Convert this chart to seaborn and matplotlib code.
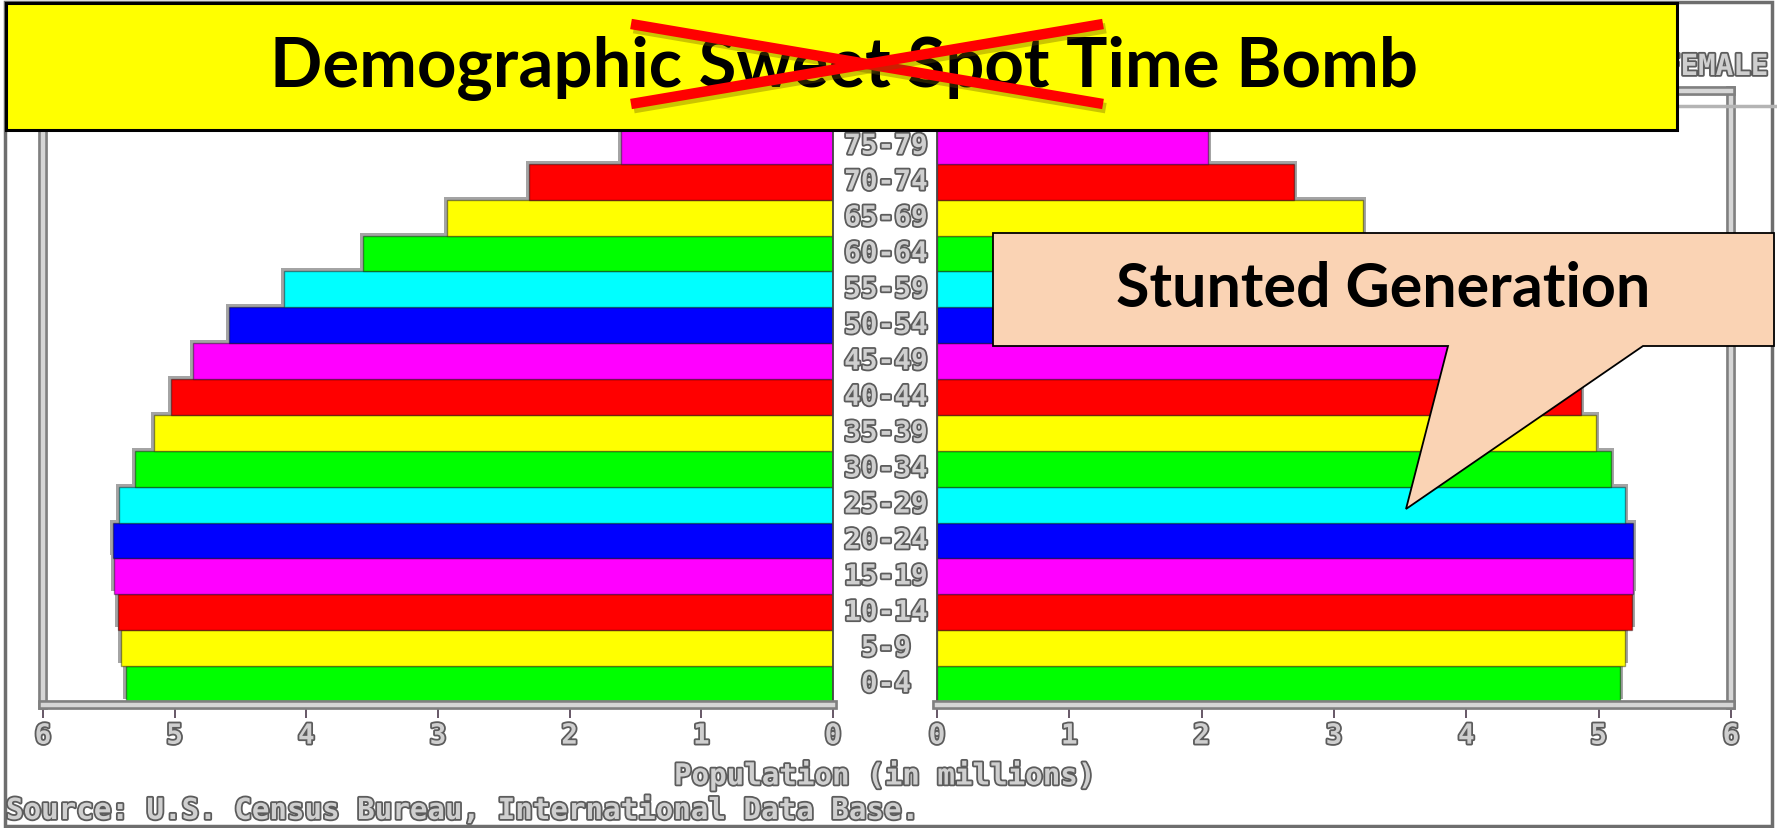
import matplotlib
matplotlib.use("Agg")
import matplotlib.pyplot as plt
import matplotlib.patheffects as pe
from matplotlib.patches import Rectangle, Polygon
from matplotlib.lines import Line2D
from matplotlib.transforms import Affine2D, blended_transform_factory
import pandas as pd
import seaborn as sns

# ---- data (population in millions, youngest group first) ----
age_groups = ["0-4", "5-9", "10-14", "15-19", "20-24", "25-29", "30-34", "35-39",
              "40-44", "45-49", "50-54", "55-59", "60-64", "65-69", "70-74", "75-79", "80+"]
male = [5.37, 5.41, 5.43, 5.46, 5.47, 5.42, 5.30, 5.16,
        5.03, 4.86, 4.59, 4.17, 3.57, 2.93, 2.31, 1.61, 1.45]
female = [5.16, 5.20, 5.25, 5.26, 5.26, 5.20, 5.09, 4.98,
          4.87, 4.72, 4.50, 4.15, 3.68, 3.22, 2.70, 2.05, 2.65]
bar_colors = ["#00FF00", "#FFFF00", "#FF0000", "#FF00FF", "#0000FF", "#00FFFF",
              "#00FF00", "#FFFF00", "#FF0000", "#FF00FF", "#0000FF", "#00FFFF",
              "#00FF00", "#FFFF00", "#FF0000", "#FF00FF", "#0000FF"]
tick_values = [0, 1, 2, 3, 4, 5, 6]
tick_labels = ["0", "1", "2", "3", "4", "5", "6"]

title_text = "Demographic Sweet Spot Time Bomb"
callout_text = "Stunted Generation"
panel_title = "FEMALE"
x_label = "Population (in millions)"
source_text = "Source: U.S. Census Bureau, International Data Base."

# ---- canvas helpers (pixel -> figure fraction) ----
W, H = 1777, 829


def fx(px):
    return px / W


def fy(py):
    return 1 - py / H


sns.set_style("white")
plt.rcParams["font.family"] = ["Lato", "DejaVu Sans"]

fig = plt.figure(figsize=(W / 100, H / 100), dpi=100, facecolor="white")

df = pd.DataFrame({"age": age_groups, "male": male, "female": female})
order = age_groups[::-1]              # oldest group at the top
palette = dict(zip(age_groups, bar_colors))

mono = dict(family="DejaVu Sans Mono", fontweight="bold", color="#cfcfcf",
            path_effects=[pe.withStroke(linewidth=2.6, foreground="#5c5c5c")])

frame_fx = [pe.Stroke(linewidth=7, foreground="#808080"),
            pe.Stroke(linewidth=3.2, foreground="#d6d6d6")]

AX_BOTTOM, AX_TOP = 706, 92
BANNER_BOTTOM = 131


def draw_panel(left_px, right_px, column, outer):
    ax = fig.add_axes([fx(left_px), fy(AX_BOTTOM),
                       fx(right_px) - fx(left_px), fy(AX_TOP) - fy(AX_BOTTOM)])
    ax.set_facecolor("white")
    # grey drop outline behind each bar, nudged up and outwards
    sns.barplot(data=df, x=column, y="age", order=order, orient="y",
                color="#a4a4a4", width=1.0, saturation=1, errorbar=None, ax=ax)
    dx = -3 if outer == "left" else 3
    shift = Affine2D().translate(dx, 3)
    for p in ax.patches:
        p.set_transform(ax.transData + shift)
        p.set_linewidth(0)
    # coloured bars
    sns.barplot(data=df, x=column, y="age", hue="age", order=order, orient="y",
                palette=palette, width=1.0, saturation=1, errorbar=None,
                legend=False, edgecolor=(0, 0, 0, 0.4), linewidth=1.0, ax=ax)
    ax.set_ylim(len(order) - 1 + 0.584, -0.53)
    if outer == "left":
        ax.set_xlim(6, 0)
    else:
        ax.set_xlim(0, 6)
    ax.set_yticks([])
    ax.set_xlabel("")
    ax.set_ylabel("")
    ax.set_xticks(tick_values)
    ax.set_xticklabels(tick_labels, fontsize=20, **mono)
    ax.tick_params(axis="x", bottom=True, direction="out", length=9, width=1.3,
                   color="#5a4a5a", pad=3)
    inner = "right" if outer == "left" else "left"
    for side in ("top", "bottom", outer):
        sp = ax.spines[side]
        sp.set_visible(True)
        sp.set_linewidth(7)
        sp.set_color("#808080")
        sp.set_path_effects(frame_fx)
    ax.spines[inner].set_visible(True)
    ax.spines[inner].set_linewidth(1.3)
    ax.spines[inner].set_color("#444444")
    return ax


ax_m = draw_panel(43, 833, "male", "left")
ax_f = draw_panel(937, 1731, "female", "right")

# age-group labels in the gap between the two pyramids
# (only rows whose centre sits below the banner are labelled)
lab_tr = blended_transform_factory(fig.transFigure, ax_m.transData)
for k, age in enumerate(order):
    row_px = H - ax_m.transData.transform((0, k))[1]
    if row_px <= BANNER_BOTTOM:
        continue
    ax_m.text(fx(886), k, age, transform=lab_tr, ha="center", va="center",
              fontsize=20, clip_on=False, **mono)

fig.text(fx(884), fy(777), x_label, ha="center", va="center", fontsize=21, **mono)
fig.text(fx(6), fy(812), source_text, ha="left", va="center", fontsize=21, **mono)
fig.text(fx(1768), fy(68), panel_title, ha="right", va="center", fontsize=21,
         zorder=0.6, **mono)

# page furniture: outer border and grey rule behind the banner
fig.add_artist(Rectangle((fx(5), fy(827)), fx(1772) - fx(5), fy(3) - fy(827),
                         transform=fig.transFigure, fill=False,
                         edgecolor="#6e6e6e", linewidth=2.5, zorder=0.5))
fig.add_artist(Line2D([fx(1600), 1], [fy(107), fy(107)], transform=fig.transFigure,
                      color="#b4b4b4", linewidth=2.5, zorder=0.5))

renderer = fig.canvas.get_renderer()


def fit_width(txt, target_px):
    w = txt.get_window_extent(renderer).width
    txt.set_fontsize(txt.get_fontsize() * target_px / w)


# yellow banner with the crossed-out words
fig.add_artist(Rectangle((fx(6), fy(BANNER_BOTTOM)), fx(1677) - fx(6),
                         fy(4) - fy(BANNER_BOTTOM),
                         transform=fig.transFigure, facecolor="#FFFF00",
                         edgecolor="black", linewidth=2.2, zorder=1))
t_title = fig.text(fx(844), fy(87), title_text, ha="center", va="baseline",
                   fontsize=48, fontweight="bold", color="black", zorder=3)
fit_width(t_title, 1150)

cross_fx = [pe.SimpleLineShadow(offset=(2, -3), shadow_color="#6b5a00", alpha=0.35),
            pe.Normal()]
for (x0, y0, x1, y1) in [(631, 25, 1103, 105), (631, 105, 1103, 25)]:
    fig.add_artist(Line2D([fx(x0), fx(x1)], [fy(y0), fy(y1)], transform=fig.transFigure,
                          color="#FF0000", linewidth=7.5, solid_capstyle="butt",
                          path_effects=cross_fx, zorder=4))

# speech-bubble callout
bubble = [(993, 234), (1774, 234), (1774, 347), (1643, 347), (1406, 510),
          (1448, 347), (993, 347)]
fig.add_artist(Polygon([(fx(x), fy(y)) for x, y in bubble], closed=True,
                       transform=fig.transFigure, facecolor="#FAD3B4",
                       edgecolor="black", linewidth=1.3, zorder=1))
t_call = fig.text(fx(1383), fy(307), callout_text, ha="center", va="baseline",
                  fontsize=36, fontweight="bold", color="black", zorder=3)
fit_width(t_call, 534)

fig.savefig("out.png", dpi=100, facecolor="white")
